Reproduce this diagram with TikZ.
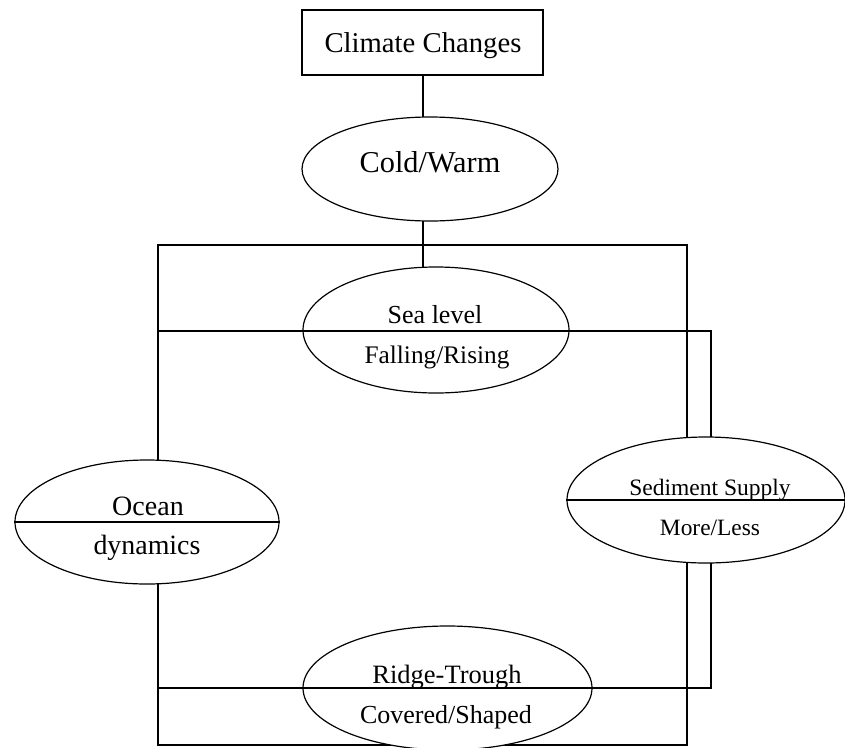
\documentclass[tikz,border=0pt]{standalone}
\usepackage{fontspec}
\setmainfont{Liberation Serif}
\usetikzlibrary{shapes.geometric,backgrounds}
\begin{document}
\begin{tikzpicture}[x=1pt,y=-1pt,
  conn/.style={line width=1.6pt, line cap=rect},
  oval/.style={ellipse, draw, line width=1.2pt, fill=white, inner sep=0pt},
  lbl/.style={anchor=base, inner sep=0pt},
]
\useasboundingbox (0,0) rectangle (845,747);
% shapes
\node[draw, line width=1.4pt, fill=white, minimum width=241pt, minimum height=65pt, inner sep=0pt] (box) at (422.5,42.5) {};
\node[oval, minimum width=256pt, minimum height=104pt] (cw) at (430,169) {};
\node[oval, minimum width=266pt, minimum height=126pt] (sea) at (436,330) {};
\node[oval, minimum width=264pt, minimum height=124pt] (ocean) at (147,522) {};
\node[oval, minimum width=278pt, minimum height=126pt] (sed) at (706,500) {};
\node[oval, minimum width=289pt, minimum height=124pt] (ridge) at (447.5,688) {};
% frame coordinates
\coordinate (tl) at (158,245);
\coordinate (tr) at (687,245);
\coordinate (bl) at (158,745);
\coordinate (br) at (687,745);
\coordinate (ml) at (158,331);
\coordinate (mr) at (711,331);
\coordinate (rl) at (158,688);
\coordinate (rr) at (711,688);
\coordinate (top) at (423,75);
\begin{scope}[on background layer]
  \fill[white] (0,0) rectangle (845,747);
  \draw[conn] (top) -- (top |- sea.north);
  \draw[conn] (tl) -- (tr) -- (br) -- (bl) -- cycle;
  \draw[conn] (mr) -- (rr);
\end{scope}
% lines over the ovals
\draw[conn] (ml) -- (mr);
\draw[conn] (rl) -- (rr);
\draw[conn] (ocean.west) -- (ocean.east);
\draw[conn] (sed.west) -- (sed.east);
% texts
\node[lbl, font=\fontsize{28.7}{30}\selectfont] (t1) at (423,52) {Climate Changes};
\node[lbl, font=\fontsize{30.3}{32}\selectfont] (t2) at (430,172) {Cold/Warm};
\node[lbl, font=\fontsize{26}{28}\selectfont] (t3) at (435,323) {Sea level};
\node[lbl, font=\fontsize{25.3}{27}\selectfont] (t4) at (437,363) {Falling/Rising};
\node[lbl, font=\fontsize{28}{30}\selectfont] (t5) at (148,515) {Ocean};
\node[lbl, font=\fontsize{27.9}{30}\selectfont] (t6) at (147,554) {dynamics};
\node[lbl, font=\fontsize{23.5}{25}\selectfont] (t7) at (710,495) {Sediment Supply};
\node[lbl, font=\fontsize{23.4}{25}\selectfont] (t8) at (710,535) {More/Less};
\node[lbl, font=\fontsize{26.5}{28}\selectfont] (t9) at (447,683) {Ridge-Trough};
\node[lbl, font=\fontsize{26}{28}\selectfont] (t10) at (446,723) {Covered/Shaped};
\end{tikzpicture}
\end{document}
